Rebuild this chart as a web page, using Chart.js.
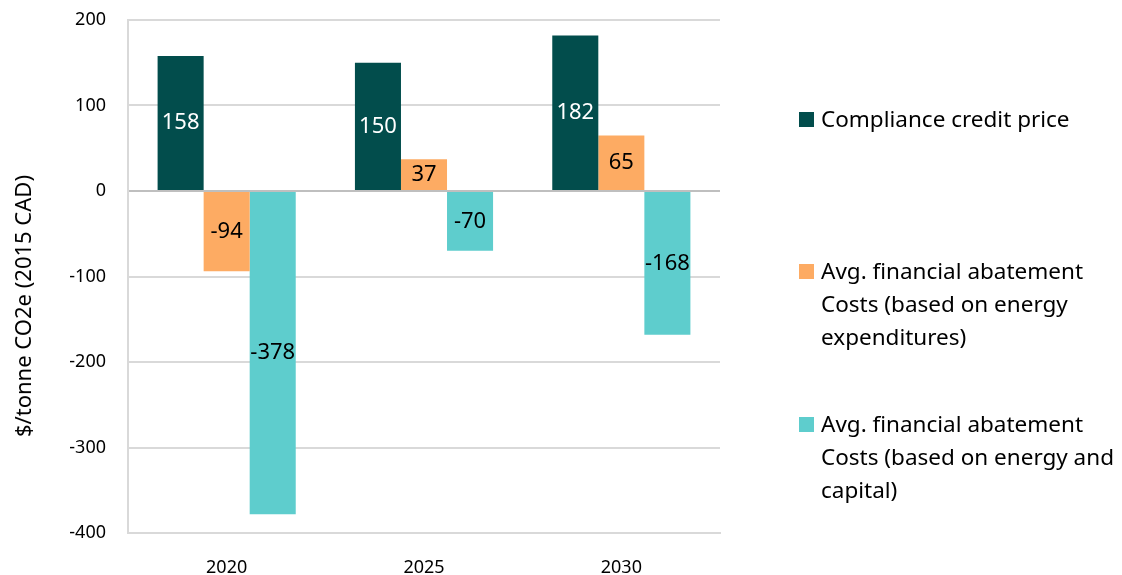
<!DOCTYPE html>
<html>
<head>
<meta charset="utf-8">
<script src="https://cdn.jsdelivr.net/npm/chart.js@4"></script>
<style>
    body { margin: 0; background: #fff; font-family: "Noto Sans", sans-serif; }
    #wrap { position: relative; width: 1122px; height: 575px; overflow: hidden; }
    #yTitle {
        position: absolute; left: 22px; top: 306px;
        transform: translate(-50%, -50%) rotate(-90deg);
        white-space: nowrap; font-size: 22px; color: #000;
    }
    #legend { position: absolute; left: 799px; top: 0; width: 323px; font-size: 22.5px; color: #000; }
    .item { position: absolute; left: 0; display: flex; align-items: flex-start; line-height: 33px; }
    .box { width: 15px; height: 15px; margin-top: 10px; margin-right: 7px; flex: none; }
</style>
</head>
<body>
<div id="wrap">
    <canvas id="chart" width="1122" height="575"></canvas>
    <div id="yTitle">$/tonne CO2e (2015 CAD)</div>
    <div id="legend"></div>
</div>
<script>
// Chart data
const years = ['2020', '2025', '2030'];
const creditPrice = [158, 150, 182];
const costsEnergy = [-94, 37, 65];
const costsEnergyCapital = [-378, -70, -168];
const seriesNames = [
    'Compliance credit price',
    'Avg. financial abatement Costs (based on energy expenditures)',
    'Avg. financial abatement Costs (based on energy and capital)'
];
const seriesColors = ['#024d4c', '#fdab63', '#5ecdcd'];
const labelColors = ['#ffffff', '#000000', '#000000'];

// Draw value labels in the middle of each bar
const barLabels = {
    id: 'barLabels',
    afterDatasetsDraw(chart) {
        const ctx = chart.ctx;
        ctx.save();
        ctx.font = '22px "Noto Sans", sans-serif';
        ctx.textAlign = 'center';
        ctx.textBaseline = 'middle';
        chart.data.datasets.forEach((ds, i) => {
            chart.getDatasetMeta(i).data.forEach((bar, j) => {
                const mid = (bar.y + bar.base) / 2;
                ctx.fillStyle = labelColors[i];
                ctx.fillText(ds.data[j], bar.x, mid);
            });
        });
        ctx.restore();
    }
};

const ctx = document.getElementById('chart').getContext('2d');
new Chart(ctx, {
    type: 'bar',
    data: {
        labels: years,
        datasets: [
            { label: seriesNames[0], data: creditPrice, backgroundColor: seriesColors[0] },
            { label: seriesNames[1], data: costsEnergy, backgroundColor: seriesColors[1] },
            { label: seriesNames[2], data: costsEnergyCapital, backgroundColor: seriesColors[2] }
        ]
    },
    options: {
        responsive: false,
        animation: false,
        layout: { padding: { top: 20, right: 402, bottom: 0, left: 0 } },
        datasets: { bar: { categoryPercentage: 0.7, barPercentage: 1.0 } },
        plugins: {
            legend: { display: false },
            tooltip: { enabled: false }
        },
        scales: {
            x: {
                afterFit: function(scale) { scale.height = 42; },
                grid: { display: false, drawTicks: false },
                border: { color: '#d9d9d9', width: 2 },
                ticks: { color: '#000', font: { size: 18, family: '"Noto Sans", sans-serif' }, padding: 24 }
            },
            y: {
                min: -400,
                max: 200,
                afterFit: function(scale) {
                    scale.width = 128;
                    scale.paddingTop = 0;
                    scale.paddingBottom = 0;
                },
                grid: {
                    color: c => c.tick && c.tick.value === 0 ? '#bfbfbf' : '#d9d9d9',
                    lineWidth: 2,
                    drawTicks: false
                },
                border: { color: '#d9d9d9', width: 2 },
                ticks: {
                    stepSize: 100,
                    color: '#000',
                    padding: 22,
                    font: { size: 18, family: '"Noto Sans", sans-serif' }
                }
            }
        }
    },
    plugins: [barLabels]
});

// Legend with wrapped labels on the right
const legend = document.getElementById('legend');
const legendTops = [102, 254, 407];
seriesNames.forEach((name, i) => {
    const item = document.createElement('div');
    item.className = 'item';
    item.style.top = legendTops[i] + 'px';
    item.style.width = '323px';
    item.innerHTML = '<span class="box" style="background:' + seriesColors[i] + '"></span><span>' + name + '</span>';
    legend.appendChild(item);
});
</script>
</body>
</html>
